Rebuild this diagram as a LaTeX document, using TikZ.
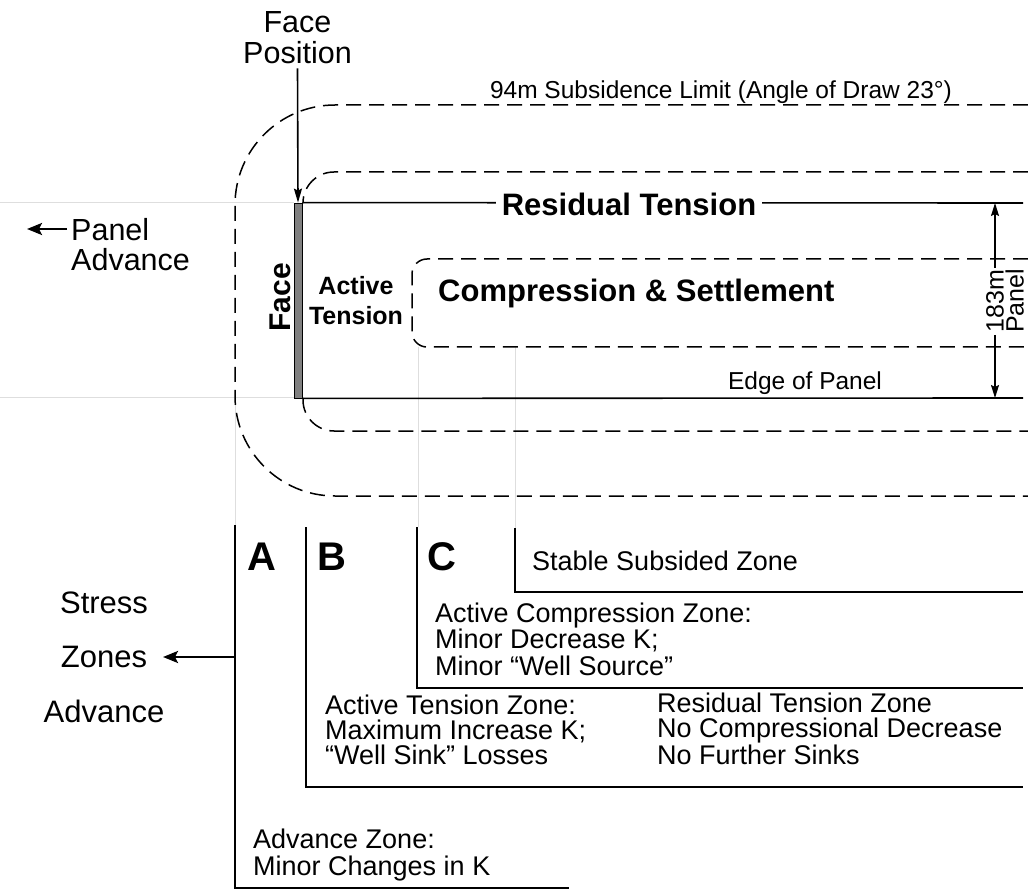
\documentclass[tikz,border=0pt]{standalone}
\usepackage{fontspec}
\setmainfont{Liberation Sans}
\usetikzlibrary{arrows.meta}
\begin{document}
\begin{tikzpicture}[x=1pt,y=-1pt,
  dashln/.style={line width=1.5pt,dash pattern=on 15pt off 8pt},
  solidln/.style={line width=1.6pt},
  guide/.style={line width=1pt,black!13},
  arrowln/.style={line width=2.4pt,-{Stealth[length=15pt,width=12pt,inset=3pt]}},
  dimarrow/.style={line width=1.6pt,-{Stealth[length=13pt,width=8pt,inset=2pt]}},
  txt/.style={inner sep=0pt,font=\fontsize{27}{26}\selectfont,align=left},
  bigbold/.style={inner sep=0pt,font=\bfseries\fontsize{31}{31}\selectfont},
  letter/.style={inner sep=0pt,font=\bfseries\fontsize{40}{40}\selectfont,anchor=base west},
]
\useasboundingbox (0,0) rectangle (1028,890);
% faint guide lines
\draw[guide] (0,203) -- (294,203);
\draw[guide] (0,398) -- (294,398);
\draw[guide] (235,398) -- (235,525);
\draw[guide] (418,347) -- (418,527);
\draw[guide] (515,347) -- (515,528);
% dashed zone limits
\draw[dashln,rounded corners=100pt] (1028,105) -- (235,105) -- (235,496) -- (1028,496);
\draw[dashln,rounded corners=31pt] (1028,172) -- (303,172) -- (303,203);
\draw[dashln,rounded corners=31pt] (303,398) -- (303,431) -- (1028,431);
\draw[dashln,rounded corners=15pt] (1028,259) -- (412,259) -- (412,347) -- (1028,347);
% face and panel edges
\node[draw=black,fill=black!50,line width=0.8pt,minimum width=8pt,minimum height=195pt,inner sep=0pt] (face) at (298,300.5) {};
\draw[solidln] (face.north east) -- (1023,203);
\draw[solidln] (face.south east) -- (1023,398);
\node[bigbold,fill=white,inner xsep=6pt,inner ysep=0pt,anchor=base] (rt) at (629,216) {Residual Tension};
\node[bigbold,anchor=base west] (cs) at (438,302) {Compression \& Settlement};
\node[inner sep=0pt,font=\bfseries\fontsize{25}{30}\selectfont,align=center,anchor=base] (at) at (356,325) {Active\\Tension};
\node[inner sep=0pt,font=\bfseries\fontsize{30}{30}\selectfont,rotate=90] (facelbl) at (280,297.5) {Face};
\node[inner sep=0pt,font=\fontsize{24.5}{25}\selectfont,anchor=base] (eop) at (805,390) {Edge of Panel};
\node[inner sep=0pt,font=\fontsize{24.5}{25}\selectfont,anchor=base] (sub) at (721,99) {94m Subsidence Limit (Angle of Draw 23°)};
% panel width dimension
\node[inner sep=0pt,font=\fontsize{25}{20}\selectfont,align=center,rotate=90] (pw) at (1005,301) {183m\\Panel};
\coordinate (dimtop) at (995,203);
\coordinate (dimbot) at (995,398);
\coordinate (dimup) at (995,268);
\coordinate (dimdn) at (995,335);
\draw[dimarrow] (dimup) -- (dimtop);
\draw[dimarrow] (dimdn) -- (dimbot);
% face position
\node[inner sep=0pt,font=\fontsize{30.5}{31}\selectfont,align=center,anchor=base] (fp) at (297.5,64) {Face\\Position};
\draw[line width=1.6pt,-{Stealth[length=14pt,width=8pt,inset=2pt]}] ([yshift=-4pt]fp.south) -- (face.north);
% panel advance
\node[inner sep=0pt,font=\fontsize{30.5}{30}\selectfont,align=left,anchor=base west] (pa) at (71,271) {Panel\\Advance};
\coordinate (patail) at (67,229);
\coordinate (patip) at (27,229);
\draw[arrowln] (patail) -- (patip);
% stress zones
\draw[solidln] (235,525) -- (235,888) -- (569,888);
\draw[solidln] (306,527) -- (306,787) -- (1023,787);
\draw[solidln] (417,527) -- (417,688) -- (1023,688);
\draw[solidln] (515,528) -- (515,592) -- (1023,592);
\node[letter] (la) at (247,570) {A};
\node[letter] (lb) at (317,570) {B};
\node[letter] (lc) at (427,570) {C};
\node[txt,anchor=base west] (stable) at (532,570) {Stable Subsided Zone};
\node[txt,anchor=base west,font=\fontsize{27}{26.5}\selectfont] (acz) at (435,675) {Active Compression Zone:\\Minor Decrease K;\\Minor “Well Source”};
\node[txt,anchor=base west,font=\fontsize{27}{25}\selectfont] (atz) at (325,764) {Active Tension Zone:\\Maximum Increase K;\\“Well Sink” Losses};
\node[txt,anchor=base west,font=\fontsize{27}{25}\selectfont] (rtz) at (657,764) {Residual Tension Zone\\No Compressional Decrease\\No Further Sinks};
\node[txt,anchor=base west,font=\fontsize{27}{27}\selectfont] (az) at (253,875) {Advance Zone:\\Minor Changes in K};
\node[inner sep=0pt,font=\fontsize{31}{54.5}\selectfont,align=center,anchor=base] (sza) at (104,722) {Stress\\Zones\\Advance};
\coordinate (zatail) at (235,657);
\coordinate (zatip) at (163,657);
\draw[arrowln] (zatail) -- (zatip);
\end{tikzpicture}
\end{document}
